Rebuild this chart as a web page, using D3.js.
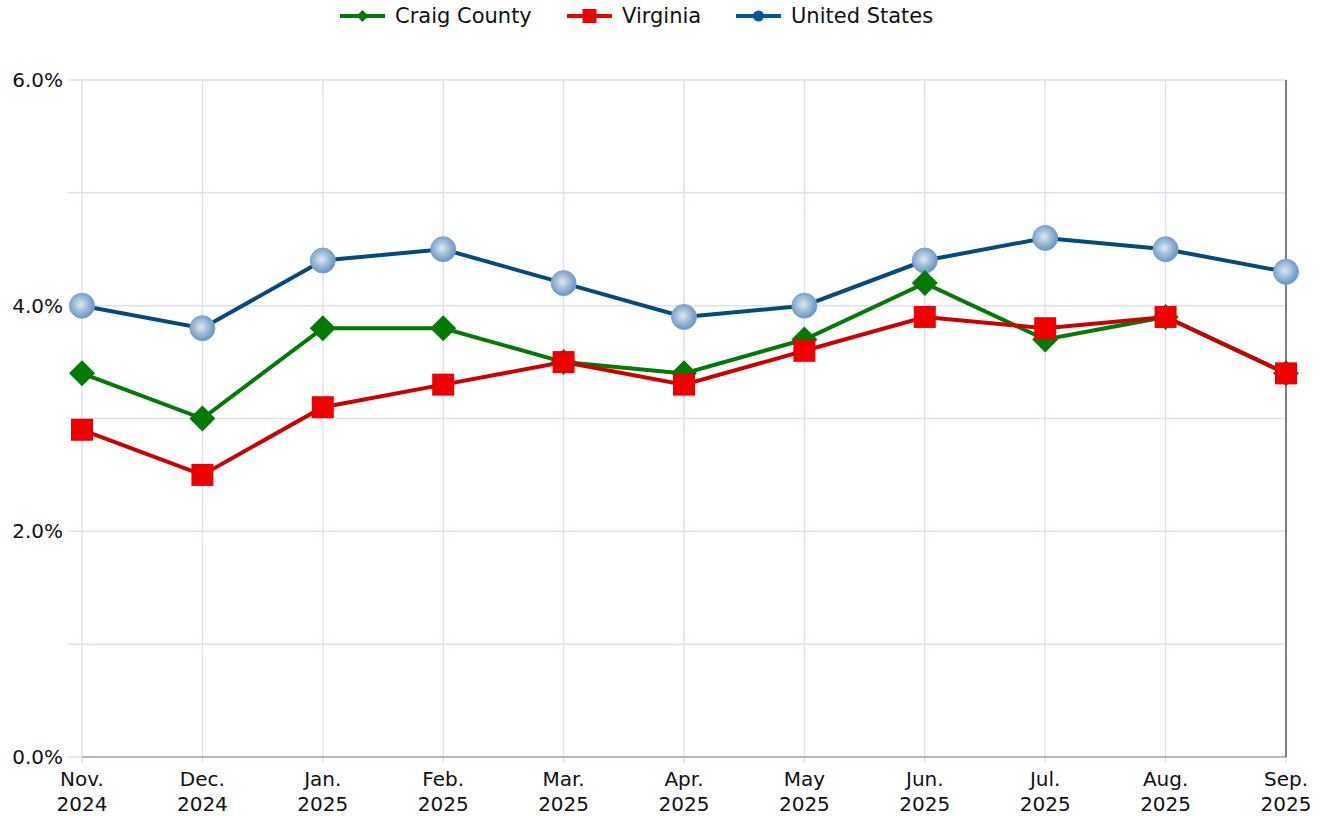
<!DOCTYPE html>
<html><head><meta charset="utf-8">
<script src="https://cdn.jsdelivr.net/npm/d3@7"></script>
<style>body{margin:0;background:#fff;font-family:"DejaVu Sans",Verdana,sans-serif;}</style>
</head><body><svg id="c" width="1323" height="816"></svg>
<script>
const months = ["Nov.","Dec.","Jan.","Feb.","Mar.","Apr.","May","Jun.","Jul.","Aug.","Sep."];
const years = ["2024","2024","2025","2025","2025","2025","2025","2025","2025","2025","2025"];
const craig = [3.4,3.0,3.8,3.8,3.5,3.4,3.7,4.2,3.7,3.9,3.4];
const virginia = [2.9,2.5,3.1,3.3,3.5,3.3,3.6,3.9,3.8,3.9,3.4];
const us = [4.0,3.8,4.4,4.5,4.2,3.9,4.0,4.4,4.6,4.5,4.3];
const yTicks = [0,1,2,3,4,5,6];
const yLabelTicks = [0,2,4,6];

const svg = d3.select("#c");
const L=82,R=1286,T=80,B=757;
const x = d3.scalePoint().domain(d3.range(months.length)).range([L,R]);
const y = d3.scaleLinear().domain([0,6]).range([B,T]);

const defs = svg.append("defs");
const g = defs.append("radialGradient").attr("id","ball").attr("cx","45%").attr("cy","45%").attr("r","60%");
g.append("stop").attr("offset","0%").attr("stop-color","#dde8f3");
g.append("stop").attr("offset","55%").attr("stop-color","#94b5d4");
g.append("stop").attr("offset","100%").attr("stop-color","#5f8dbb");

// grid
svg.append("g").selectAll("line").data(yTicks).join("line")
  .attr("x1",L-14).attr("x2",R).attr("y1",d=>y(d)).attr("y2",d=>y(d))
  .attr("stroke","#e0e0f2").attr("stroke-width",1.5);
svg.append("g").selectAll("line").data(d3.range(months.length)).join("line")
  .attr("x1",d=>x(d)).attr("x2",d=>x(d)).attr("y1",T).attr("y2",B+6)
  .attr("stroke","#e0e0f2").attr("stroke-width",1.5);
// axes lines
svg.append("line").attr("x1",L).attr("x2",R).attr("y1",B).attr("y2",B).attr("stroke","#b4b4c4").attr("stroke-width",2);
svg.append("line").attr("x1",R).attr("x2",R).attr("y1",T).attr("y2",B).attr("stroke","#5a5a70").attr("stroke-width",1.5);

// y labels
svg.append("g").selectAll("text").data(yLabelTicks).join("text")
  .attr("x",63).attr("y",d=>y(d)).attr("dy","0.35em").attr("text-anchor","end")
  .attr("font-size",20).attr("fill","#111").text(d=>d.toFixed(1)+"%");
// x labels
const xl = svg.append("g").selectAll("text").data(d3.range(months.length)).join("text")
  .attr("x",d=>x(d)).attr("text-anchor","middle").attr("font-size",20).attr("fill","#111");
xl.append("tspan").attr("x",d=>x(d)).attr("y",786).text(d=>months[d]);
xl.append("tspan").attr("x",d=>x(d)).attr("y",811).text(d=>years[d]);

const line = d3.line().x((d,i)=>x(i)).y(d=>y(d));
function diamond(sel,s){sel.attr("d",`M0,${-s}L${s},0L0,${s}L${-s},0Z`);}

svg.append("path").datum(us).attr("d",line).attr("fill","none").attr("stroke","#034a7e").attr("stroke-width",4);
svg.append("path").datum(craig).attr("d",line).attr("fill","none").attr("stroke","#037a03").attr("stroke-width",4);
svg.append("path").datum(virginia).attr("d",line).attr("fill","none").attr("stroke","#cc0000").attr("stroke-width",4);

svg.append("g").selectAll("circle").data(us).join("circle")
  .attr("cx",(d,i)=>x(i)).attr("cy",d=>y(d)).attr("r",12.5).attr("fill","url(#ball)").attr("stroke","#7fa3c7").attr("stroke-width",1);
svg.append("g").selectAll("path").data(craig).join("path")
  .attr("transform",(d,i)=>`translate(${x(i)},${y(d)})`).call(diamond,13).attr("fill","#037a03");
svg.append("g").selectAll("rect").data(virginia).join("rect")
  .attr("x",(d,i)=>x(i)-11).attr("y",d=>y(d)-11).attr("width",22).attr("height",22).attr("fill","#ee0000");

// legend
const leg = [
  {name:"Craig County",color:"#037a03",type:"d",x:340},
  {name:"Virginia",color:"#ee0000",type:"s",x:567},
  {name:"United States",color:"#03579a",type:"c",x:736}
];
const lg = svg.append("g").selectAll("g").data(leg).join("g").attr("transform",d=>`translate(${d.x},16)`);
lg.append("line").attr("x1",0).attr("x2",45).attr("stroke",d=>d.color).attr("stroke-width",4);
lg.each(function(d){
  const s=d3.select(this);
  if(d.type==="d") s.append("path").attr("transform","translate(22.5,0)").call(diamond,6).attr("fill",d.color);
  if(d.type==="s") s.append("rect").attr("x",15.5).attr("y",-7).attr("width",14).attr("height",14).attr("fill",d.color);
  if(d.type==="c") s.append("circle").attr("cx",22.5).attr("r",5.5).attr("fill",d.color);
});
lg.append("text").attr("x",55).attr("dy","0.35em").attr("font-size",21).attr("fill","#111").text(d=>d.name);
</script></body></html>
